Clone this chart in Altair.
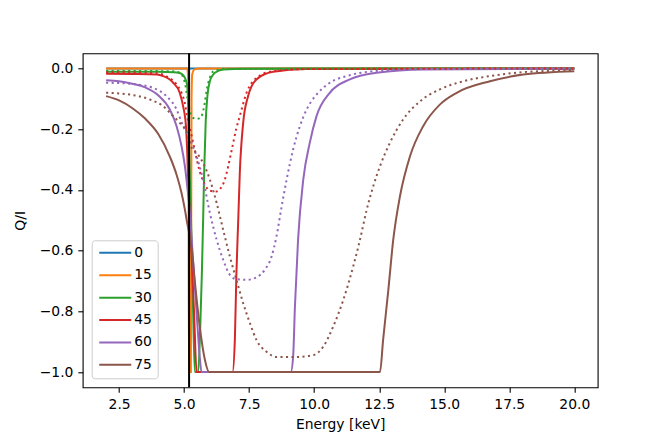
import altair as alt
import pandas as pd

# ---------------- data ----------------
angles = ["0", "15", "30", "45", "60", "75"]
colors = ["#1f77b4", "#ff7f0e", "#2ca02c", "#d62728", "#9467bd", "#8c564b"]

x_ticks = [2.5, 5.0, 7.5, 10.0, 12.5, 15.0, 17.5, 20.0]
y_ticks = [0.0, -0.2, -0.4, -0.6, -0.8, -1.0]
edge_energy = [5.19]

# solid curves
e_s0 = [2, 20]
q_s0 = [0, 0]

e_s15 = [2, 5.12, 5.16, 5.18, 5.26, 5.27, 5.285, 5.31, 5.4, 5.6, 20]
q_s15 = [0, 0, -0.05, -1.0, -1.0, -0.6, -0.1, -0.02, -0.003, 0, 0]

e_s30 = [2, 3, 4, 4.6, 4.83, 4.96, 5.03, 5.09, 5.12, 5.15, 5.2, 5.26, 5.33, 5.41,
         5.54, 5.62, 5.68, 5.73, 5.77, 5.83, 5.9, 5.99, 6.1, 6.18, 6.5, 7.5, 10, 20]
q_s30 = [-0.011, -0.011, -0.011, -0.012, -0.015, -0.022, -0.031, -0.045, -0.058, -0.1,
         -0.3, -0.48, -0.74, -1.0, -1.0, -0.85, -0.68, -0.5, -0.34, -0.174, -0.086,
         -0.042, -0.022, -0.014, -0.003, -0.001, 0, 0]

e_s45 = [2, 3, 3.95, 4.19, 4.58, 4.83, 4.96, 5.07, 5.12, 5.15, 5.2, 5.28, 5.38, 5.48,
         6.86, 6.95, 7.01, 7.08, 7.14, 7.27, 7.46, 7.78, 8.42, 9.7, 20]
q_s45 = [-0.017, -0.018, -0.02, -0.025, -0.047, -0.08, -0.124, -0.19, -0.278, -0.355,
         -0.45, -0.6, -0.8, -1.0, -1.0, -0.894, -0.674, -0.5, -0.344, -0.179, -0.091,
         -0.036, -0.011, -0.002, 0]

e_s60 = [2, 2.5, 3.0, 3.5, 4.0, 4.45, 4.71, 4.9, 5.03, 5.12, 5.22, 5.35, 5.48, 5.6,
         5.67, 9.10, 9.19, 9.26, 9.38, 9.58, 9.83, 10.09, 10.6, 11.37, 12.4, 14.19, 20]
q_s60 = [-0.039, -0.042, -0.05, -0.062, -0.088, -0.135, -0.19, -0.256, -0.322, -0.388,
         -0.475, -0.64, -0.805, -0.95, -1.0, -1.0, -0.95, -0.784, -0.564, -0.366, -0.245,
         -0.157, -0.08, -0.036, -0.014, -0.003, -0.001]

e_s75 = [2, 2.5, 3.0, 3.5, 4.0, 4.45, 4.71, 4.9, 5.03, 5.12, 5.19, 5.3, 5.41,
         5.6, 5.8, 5.96, 12.53, 12.65, 12.85, 13.04, 13.3, 13.68, 14.19, 14.83, 15.48,
         16.76, 18.04, 20]
q_s75 = [-0.091, -0.105, -0.13, -0.165, -0.215, -0.29, -0.35, -0.41, -0.465,
         -0.51, -0.54, -0.6, -0.7, -0.85, -0.96, -1.0, -1.0, -0.894, -0.73, -0.564, -0.42,
         -0.29, -0.19, -0.119, -0.08, -0.042, -0.02, -0.009]

# dotted curves
e_d30 = [2, 4.5, 4.83, 5.03, 5.13, 5.22, 5.35, 5.5, 5.65, 5.73, 5.8, 5.86, 5.92, 5.99,
         6.12, 6.5, 20]
q_d30 = [-0.008, -0.009, -0.014, -0.047, -0.1, -0.141, -0.163, -0.166, -0.16, -0.14,
         -0.11, -0.075, -0.05, -0.03, -0.01, -0.002, 0]

e_d45 = [2, 3, 3.95, 4.3, 4.71, 4.9, 5.03, 5.12, 5.28, 5.41, 5.6, 5.8, 6.0, 6.25, 6.4,
         6.55, 6.7, 6.85, 7.0, 7.14, 7.4, 7.78, 8.4, 9.7, 20]
q_d45 = [-0.012, -0.013, -0.016, -0.025, -0.053, -0.08, -0.115, -0.16, -0.218, -0.27,
         -0.339, -0.383, -0.403, -0.405, -0.395, -0.37, -0.32, -0.26, -0.2, -0.157,
         -0.08, -0.031, -0.009, -0.002, 0]

e_d60 = [2, 2.9, 3.81, 4.32, 4.71, 4.96, 5.22, 5.48, 5.73, 5.99, 6.25, 6.5, 6.76, 7.01,
         7.4, 7.78, 8.1, 8.36, 8.55, 8.75, 8.94, 9.19, 9.45, 9.71, 10.09, 10.6, 11.25,
         12.27, 14.2, 20]
q_d60 = [-0.047, -0.05, -0.064, -0.091, -0.135, -0.19, -0.23, -0.29, -0.366, -0.476,
         -0.564, -0.63, -0.68, -0.694, -0.696, -0.688, -0.663, -0.62, -0.553, -0.454,
         -0.366, -0.267, -0.19, -0.135, -0.086, -0.047, -0.025, -0.009, -0.002, 0]

e_d75 = [2, 2.91, 3.68, 4.19, 4.58, 4.83, 5.09, 5.28, 5.5, 5.73, 5.99, 6.25, 6.5, 6.76,
         7.01, 7.27, 7.53, 7.78, 8.17, 8.55, 9.32, 9.96, 10.35, 10.73, 11.12, 11.5,
         11.76, 12.02, 12.27, 12.53, 12.91, 13.42, 14.07, 14.83, 15.73, 16.76, 18.04, 20]
q_d75 = [-0.08, -0.086, -0.102, -0.124, -0.157, -0.179, -0.207, -0.26, -0.28, -0.311,
         -0.366, -0.443, -0.531, -0.62, -0.696, -0.773, -0.839, -0.894, -0.933, -0.95,
         -0.95, -0.944, -0.916, -0.85, -0.762, -0.652, -0.564, -0.465, -0.388, -0.322,
         -0.245, -0.168, -0.108, -0.069, -0.042, -0.025, -0.012, -0.006]

solid = {"0": (e_s0, q_s0), "15": (e_s15, q_s15), "30": (e_s30, q_s30),
         "45": (e_s45, q_s45), "60": (e_s60, q_s60), "75": (e_s75, q_s75)}
dotted = {"30": (e_d30, q_d30), "45": (e_d45, q_d45),
          "60": (e_d60, q_d60), "75": (e_d75, q_d75)}


def to_frame(series):
    rows = []
    for ang, (es, qs) in series.items():
        for i, (e, q) in enumerate(zip(es, qs)):
            rows.append({"angle": ang, "energy": e, "qi": q, "idx": i})
    return pd.DataFrame(rows)


df_solid = to_frame(solid)
df_dotted = to_frame(dotted)
df_edge = pd.DataFrame({"energy": edge_energy})

FONT = "DejaVu Sans"
FS = 13.9

xscale = alt.Scale(domain=[1.1, 20.9], nice=False, zero=False)
yscale = alt.Scale(domain=[-1.05, 0.05], nice=False, zero=False)
cscale = alt.Scale(domain=angles, range=colors)

xenc = alt.X("energy:Q", scale=xscale,
             axis=alt.Axis(values=x_ticks, format=".1f", title="Energy [keV]"))
yenc = alt.Y("qi:Q", scale=yscale,
             axis=alt.Axis(values=y_ticks, format=".1f", title="Q/I"))

legend = alt.Legend(
    orient="none", legendX=9, legendY=187, title=None,
    symbolType="M-3.2,0H3.2", symbolSize=100, symbolStrokeWidth=2,
    symbolOffset=11, labelOffset=12,
    labelFontSize=FS, labelFont=FONT, labelColor="black",
    rowPadding=7.4, padding=5.6,
    strokeColor="#cccccc", fillColor="rgba(255,255,255,0.8)", cornerRadius=3,
)

solid_layer = alt.Chart(df_solid).mark_line(strokeWidth=2, interpolate="monotone").encode(
    x=xenc, y=yenc,
    color=alt.Color("angle:N", scale=cscale, sort=angles, legend=legend),
    order=alt.Order("idx:Q"),
)

dotted_layer = alt.Chart(df_dotted).mark_line(
    strokeWidth=2, strokeDash=[2.1, 3.4], strokeCap="butt", interpolate="monotone"
).encode(
    x=xenc, y=yenc,
    color=alt.Color("angle:N", scale=cscale, sort=angles, legend=None),
    order=alt.Order("idx:Q"),
)

edge_layer = alt.Chart(df_edge).mark_rule(color="black", strokeWidth=2).encode(
    x=alt.X("energy:Q", scale=xscale),
)

chart = alt.layer(solid_layer, dotted_layer, edge_layer).properties(
    width=515, height=334,
    autosize=alt.AutoSizeParams(type="none"),
    padding={"left": 74.7, "top": 45.3, "right": 50, "bottom": 50},
).configure_view(
    stroke="black", strokeWidth=1.1
).configure_axis(
    domain=False, grid=False,
    tickColor="black", tickSize=4.9, tickWidth=1.1,
    labelFont=FONT, labelFontSize=FS, labelColor="black", labelPadding=4.9,
    titleFont=FONT, titleFontSize=FS, titleColor="black", titleFontWeight="normal",
).configure_axisX(
    titlePadding=7,
).configure_axisY(
    titlePadding=12,
)

chart.save("out.html", embed_options={"renderer": "svg", "actions": False})
